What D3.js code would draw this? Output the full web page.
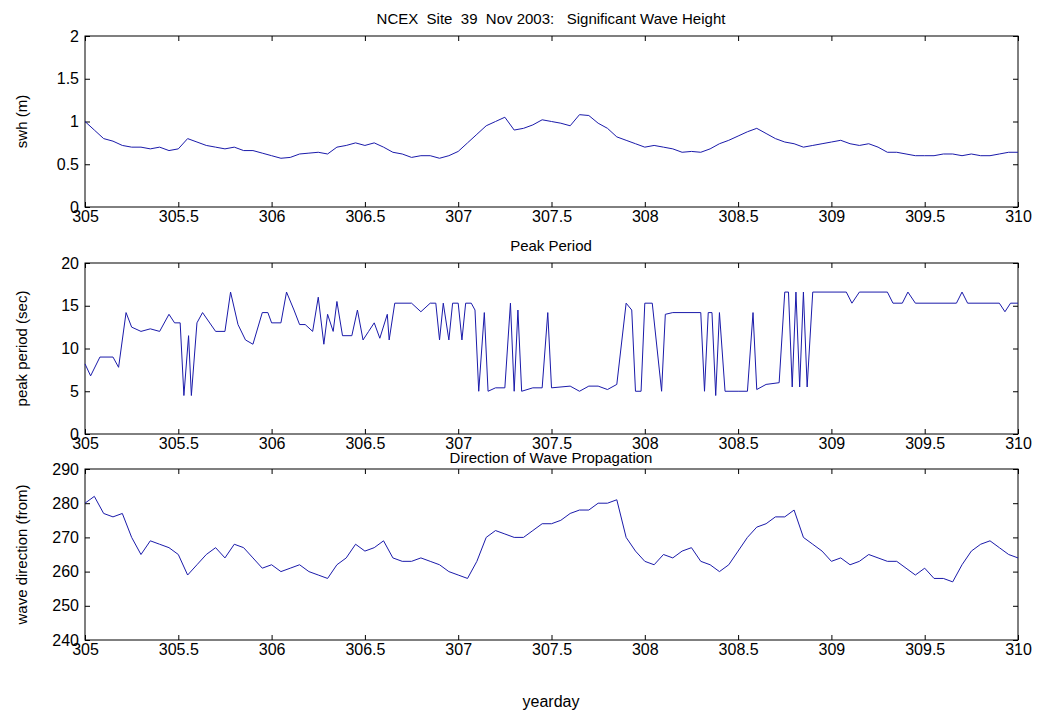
<!DOCTYPE html>
<html><head><meta charset="utf-8">
<script src="https://cdn.jsdelivr.net/npm/d3@7"></script>
<style>body{margin:0;background:#fff}text{font-family:"Liberation Sans",Arial,sans-serif;white-space:pre}</style>
</head><body><svg id="c" width="1041" height="715"></svg>
<script>
const swhX0=305, swhStep=0.05;
const swh=[1.0,0.9,0.8,0.77,0.72,0.7,0.7,0.68,0.7,0.66,0.68,0.8,0.76,0.72,0.7,0.68,0.7,0.66,0.66,0.63,0.6,0.57,0.58,0.62,0.63,0.64,0.62,0.7,0.72,0.75,0.72,0.75,0.7,0.64,0.62,0.58,0.6,0.6,0.57,0.6,0.65,0.75,0.85,0.95,1.0,1.05,0.9,0.92,0.96,1.02,1.0,0.98,0.95,1.08,1.07,0.98,0.92,0.82,0.78,0.74,0.7,0.72,0.7,0.68,0.64,0.65,0.64,0.68,0.74,0.78,0.83,0.88,0.92,0.86,0.8,0.76,0.74,0.7,0.72,0.74,0.76,0.78,0.74,0.72,0.74,0.7,0.64,0.64,0.62,0.6,0.6,0.6,0.62,0.62,0.6,0.62,0.6,0.6,0.62,0.64,0.64];
const dir=[280,282,277,276,277,270,265,269,268,267,265,259,262,265,267,264,268,267,264,261,262,260,261,262,260,259,258,262,264,268,266,267,269,264,263,263,264,263,262,260,259,258,263,270,272,271,270,270,272,274,274,275,277,278,278,280,280,281,270,266,263,262,265,264,266,267,263,262,260,262,266,270,273,274,276,276,278,270,268,266,263,264,262,263,265,264,263,263,261,259,261,258,258,257,262,266,268,269,267,265,264];
const perX=[305,305.03,305.08,305.15,305.18,305.22,305.25,305.3,305.35,305.4,305.45,305.48,305.51,305.53,305.555,305.57,305.6,305.63,305.7,305.75,305.78,305.82,305.86,305.9,305.95,305.98,306,306.05,306.08,306.12,306.15,306.18,306.22,306.25,306.28,306.3,306.33,306.35,306.38,306.43,306.46,306.49,306.52,306.55,306.58,306.62,306.63,306.66,306.75,306.8,306.85,306.88,306.9,306.92,306.95,306.97,307,307.02,307.04,307.07,307.09,307.11,307.14,307.16,307.2,307.25,307.28,307.3,307.32,307.34,307.4,307.45,307.48,307.5,307.6,307.65,307.7,307.75,307.8,307.85,307.9,307.93,307.95,307.98,308,308.04,308.09,308.11,308.15,308.3,308.32,308.34,308.36,308.38,308.4,308.43,308.5,308.55,308.58,308.6,308.65,308.72,308.75,308.77,308.79,308.81,308.83,308.85,308.87,308.9,309.08,309.11,309.15,309.3,309.33,309.38,309.41,309.45,309.67,309.7,309.73,309.9,309.93,309.96,310];
const perY=[8.2,6.8,9,9,7.8,14.2,12.5,12,12.3,12,14,13,13,4.5,11.5,4.5,13,14.2,12,12,16.6,12.8,11,10.5,14.2,14.2,13,13,16.6,14.5,12.8,12.8,12,16,10.5,14,12,15.5,11.5,11.5,14.5,11,12,13,11.2,14,11,15.3,15.3,14.3,15.3,15.3,11,15.3,11,15.3,15.3,11,15.3,15.3,14.5,5,14.2,5,5.4,5.4,15.3,5,14.5,5,5.4,5.4,14.2,5.4,5.6,5,5.6,5.6,5.2,5.8,15.3,14.5,5,5,15.3,15.3,5,14,14.2,14.2,5,14.2,14.2,4.5,14.2,5,5,5,14.2,5.2,5.8,6,16.6,16.6,5.5,16.6,5.5,16.6,5.5,16.6,16.6,15.3,16.6,16.6,15.3,15.3,16.6,15.3,15.3,16.6,15.3,15.3,14.3,15.3,15.3];
const xTicks=[305,305.5,306,306.5,307,307.5,308,308.5,309,309.5,310];
const panels=[
 {top:36,h:171,dom:[0,2],ticks:[0,0.5,1,1.5,2],ylab:"swh (m)",title:"NCEX  Site  39  Nov 2003:   Significant Wave Height",ty:24,xs:swh.map((d,i)=>swhX0+i*swhStep),ys:swh},
 {top:263,h:171,dom:[0,20],ticks:[0,5,10,15,20],ylab:"peak period (sec)",title:"Peak Period",ty:251,xs:perX,ys:perY},
 {top:469,h:171,dom:[240,290],ticks:[240,250,260,270,280,290],ylab:"wave direction (from)",title:"Direction of Wave Propagation",ty:463,xs:dir.map((d,i)=>swhX0+i*swhStep),ys:dir}
];
const svg=d3.select("#c");
const x=d3.scaleLinear().domain([305,310]).range([85,1018]);
panels.forEach(p=>{
 const y=d3.scaleLinear().domain(p.dom).range([p.top+p.h,p.top]);
 const g=svg.append("g");
 g.append("rect").attr("x",85).attr("y",p.top).attr("width",933).attr("height",p.h).attr("fill","none").attr("stroke","#000").attr("stroke-width",1);
 const fmt=d=>String(d);
 g.append("g").attr("transform",`translate(0,${p.top+p.h})`).call(d3.axisBottom(x).tickValues(xTicks).tickFormat(fmt).tickSizeInner(-5).tickSizeOuter(0).tickPadding(4));
 g.append("g").attr("transform",`translate(0,${p.top})`).call(d3.axisTop(x).tickValues(xTicks).tickFormat("").tickSizeInner(-5).tickSizeOuter(0));
 g.append("g").attr("transform",`translate(85,0)`).call(d3.axisLeft(y).tickValues(p.ticks).tickFormat(fmt).tickSizeInner(-5).tickSizeOuter(0).tickPadding(6));
 g.append("g").attr("transform",`translate(1018,0)`).call(d3.axisRight(y).tickValues(p.ticks).tickFormat("").tickSizeInner(-5).tickSizeOuter(0));
 g.selectAll(".domain").remove();
 g.selectAll(".tick text").attr("font-size",16).attr("fill","#000").style("font-family","Liberation Sans, Arial");
 g.selectAll(".tick line").attr("stroke","#000");
 const pts=p.xs.map((v,i)=>[v,p.ys[i]]);
 g.append("path").attr("d",d3.line().x(d=>x(d[0])).y(d=>y(d[1]))(pts)).attr("fill","none").attr("stroke","#1a1aaa").attr("stroke-width",1);
 g.append("text").attr("x",551).attr("y",p.ty).attr("text-anchor","middle").attr("font-size",15).text(p.title);
 g.append("text").attr("transform",`translate(27,${p.top+p.h/2}) rotate(-90)`).attr("text-anchor","middle").attr("font-size",15).text(p.ylab);
});
svg.append("text").attr("x",551).attr("y",707).attr("text-anchor","middle").attr("font-size",16).text("yearday");
</script></body></html>
